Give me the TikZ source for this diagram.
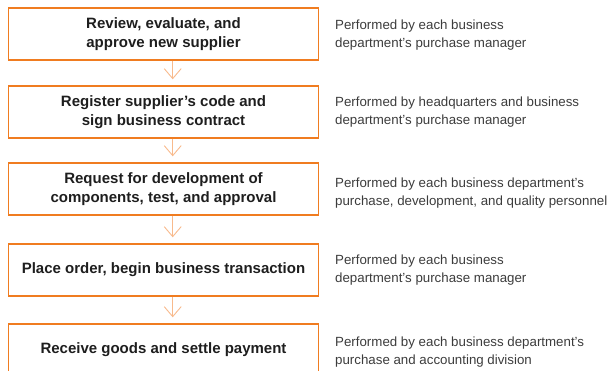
\documentclass[tikz,border=0pt]{standalone}
\usepackage{fontspec}
\setmainfont{Liberation Sans}
\usepackage{tikz}
\usetikzlibrary{arrows.meta, positioning}
\definecolor{spOrange}{RGB}{240,124,32}
\definecolor{spArrow}{RGB}{248,186,140}
\definecolor{spText}{RGB}{30,30,30}
\definecolor{spNote}{RGB}{60,60,60}

\begin{document}
\begin{tikzpicture}[x=1pt, y=-1pt,
    stepbox/.style={draw=spOrange, line width=1.4pt, minimum width=310pt, minimum height=52pt,
      align=center, text=spText, font=\fontsize{15}{19.5}\selectfont\bfseries, inner sep=0pt},
    note/.style={anchor=west, align=left, text=spNote, font=\fontsize{13.3}{18.5}\selectfont, inner sep=0pt},
    arr/.style={-{Straight Barb[length=10pt, width=17pt]}, line width=0.9pt, draw=spArrow, shorten >=6pt}
  ]
    \useasboundingbox (0,0) rectangle (612,371);
    \coordinate (ax) at (172.7,0);
    \node[stepbox] (s1) at (163.5,34) {Review, evaluate, and\\approve new supplier};
    \node[stepbox] (s2) at (163.5,112) {Register supplier's code and\\sign business contract};
    \node[stepbox] (s3) at (163.5,189) {Request for development of\\components, test, and approval};
    \node[stepbox] (s4) at (163.5,270) {Place order, begin business transaction};
    \node[stepbox] (s5) at (163.5,350) {Receive goods and settle payment};
    \node[note] (n1) at (335,35) {Performed by each business\\department's purchase manager};
    \node[note] (n2) at (335,112) {Performed by headquarters and business\\department's purchase manager};
    \node[note] (n3) at (335,193) {Performed by each business department's\\purchase, development, and quality personnel};
    \node[note] (n4) at (335,270) {Performed by each business\\department's purchase manager};
    \node[note] (n5) at (335,352) {Performed by each business department's\\purchase and accounting division};
    \draw[arr] (s1.south -| ax) -- (s2.north -| ax);
    \draw[arr] (s2.south -| ax) -- (s3.north -| ax);
    \draw[arr] (s3.south -| ax) -- (s4.north -| ax);
    \draw[arr] (s4.south -| ax) -- (s5.north -| ax);
  \end{tikzpicture}
\end{document}
